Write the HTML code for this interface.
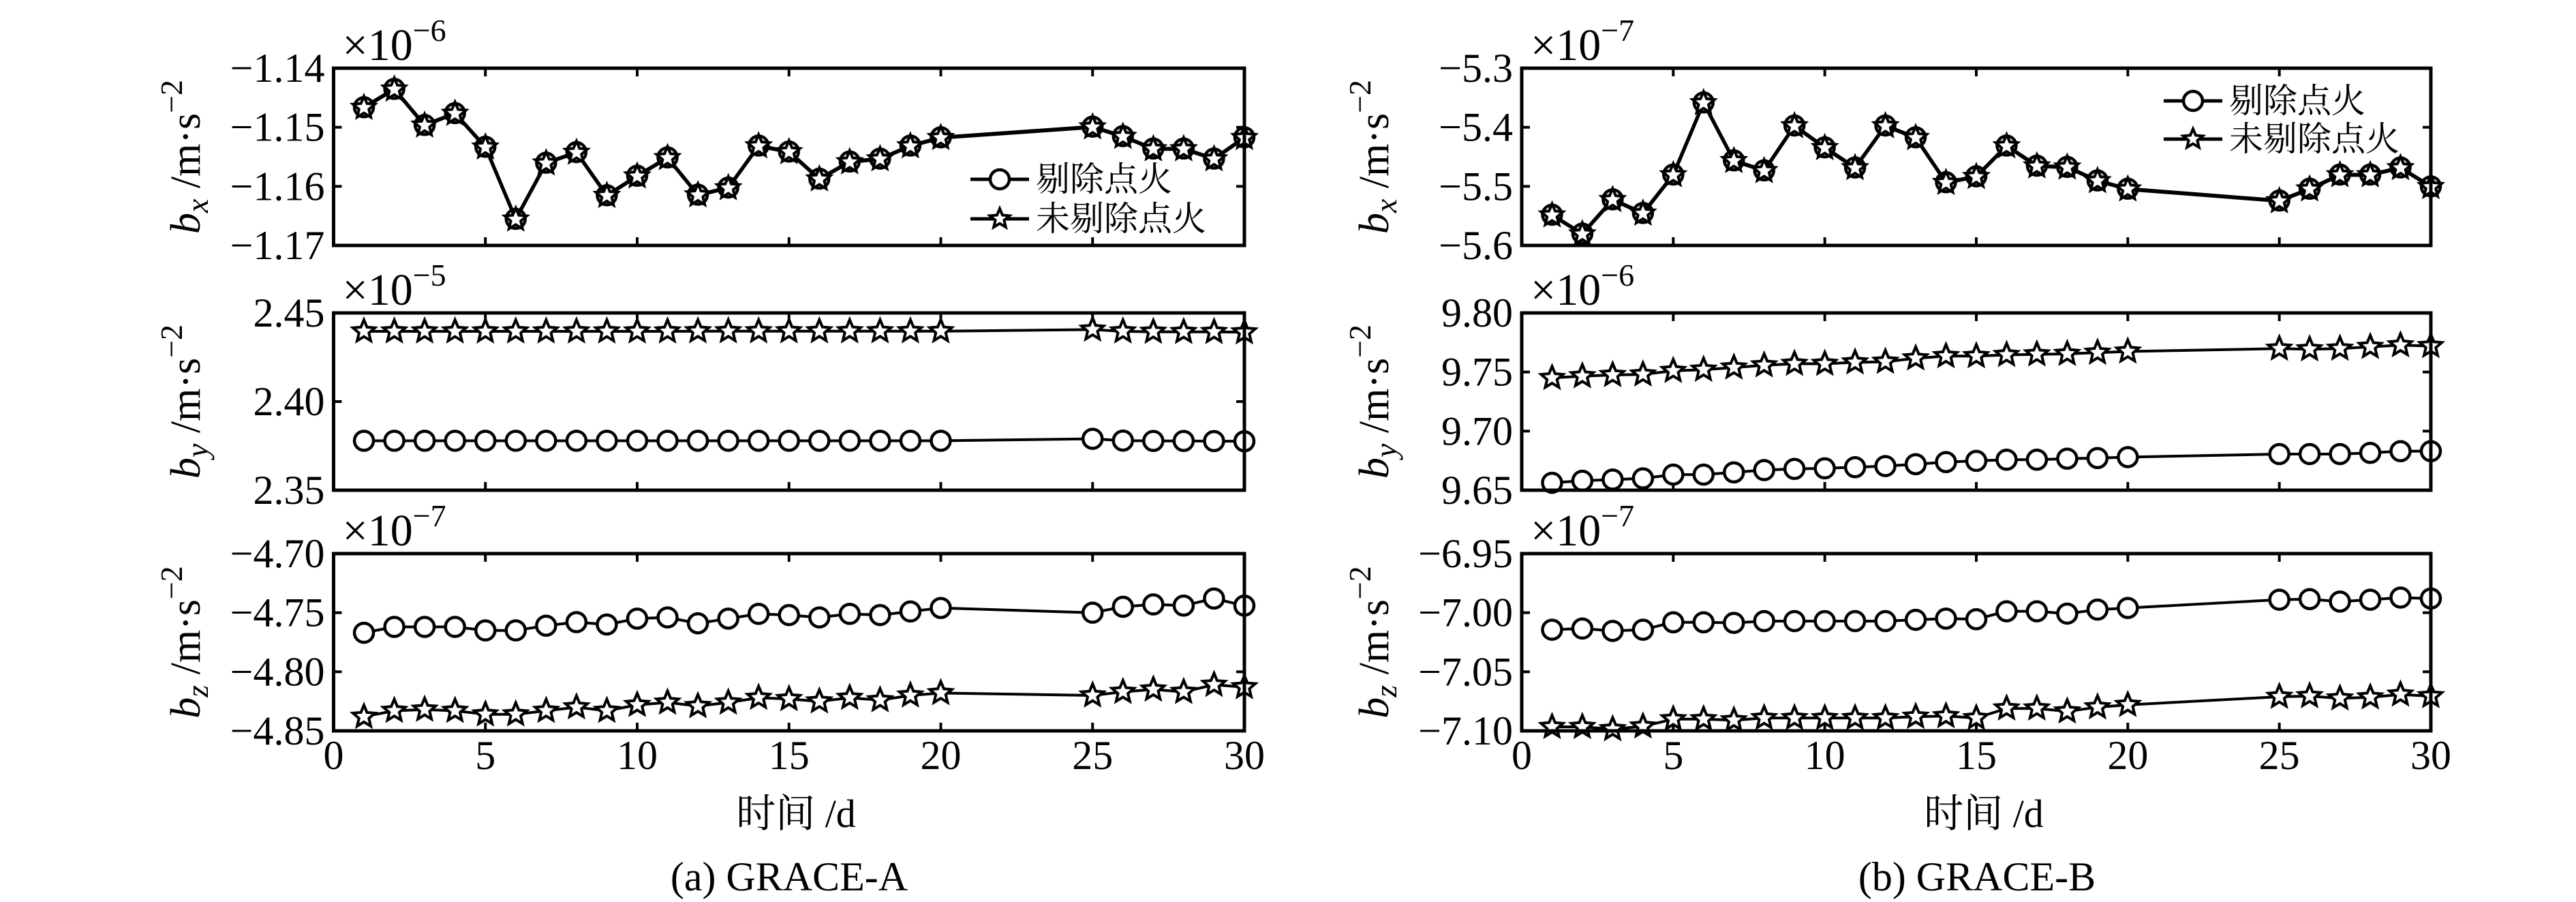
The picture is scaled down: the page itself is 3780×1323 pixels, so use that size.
<!DOCTYPE html>
<html><head><meta charset="utf-8"><style>
html,body{margin:0;padding:0;background:#fff;}
svg{display:block;font-family:"Liberation Serif","Noto Serif CJK SC",serif;}
svg text{font-family:"Liberation Serif","Noto Serif CJK SC",serif !important;fill:#000;}
</style></head><body>
<svg id="fig" width="3780" height="1323" viewBox="0 0 3780 1323" xmlns="http://www.w3.org/2000/svg" font-family="Liberation Serif, Noto Serif CJK SC, serif"></svg>
<script>
const days = [1,2,3,4,5,6,7,8,9,10,11,12,13,14,15,16,17,18,19,20,25,26,27,28,29,30];
// GRACE-A
const aBxCircle = [-1.1466,-1.1435,-1.1496,-1.1476,-1.1533,-1.1655,-1.1560,-1.1542,-1.1615,-1.1582,-1.1551,-1.1614,-1.1602,-1.1531,-1.1541,-1.1587,-1.1558,-1.1553,-1.1531,-1.1517,-1.1499,-1.1515,-1.1536,-1.1536,-1.1553,-1.1517];
const aBxStar   = [-1.1467,-1.1436,-1.1497,-1.1477,-1.1534,-1.1656,-1.1561,-1.1543,-1.1616,-1.1583,-1.1552,-1.1615,-1.1603,-1.1532,-1.1542,-1.1588,-1.1559,-1.1554,-1.1532,-1.1518,-1.1500,-1.1516,-1.1537,-1.1537,-1.1554,-1.1518];
const aByCircle = [2.3779,2.3779,2.3779,2.3779,2.3779,2.3779,2.3779,2.3779,2.3779,2.3779,2.3779,2.3779,2.3779,2.3779,2.3779,2.3779,2.3779,2.3779,2.3779,2.3779,2.3790,2.3780,2.3778,2.3778,2.3777,2.3776];
const aByStar   = [2.4396,2.4396,2.4396,2.4396,2.4396,2.4396,2.4396,2.4396,2.4396,2.4396,2.4396,2.4397,2.4397,2.4397,2.4397,2.4397,2.4397,2.4397,2.4397,2.4397,2.4406,2.4396,2.4394,2.4393,2.4393,2.4391];
const aBzCircle = [-4.767,-4.762,-4.762,-4.762,-4.765,-4.765,-4.761,-4.758,-4.760,-4.755,-4.754,-4.759,-4.755,-4.751,-4.752,-4.754,-4.751,-4.752,-4.749,-4.746,-4.750,-4.745,-4.743,-4.744,-4.738,-4.744];
const aBzStar   = [-4.838,-4.833,-4.832,-4.833,-4.836,-4.836,-4.833,-4.830,-4.833,-4.828,-4.826,-4.829,-4.826,-4.822,-4.823,-4.825,-4.822,-4.824,-4.820,-4.818,-4.820,-4.817,-4.815,-4.817,-4.811,-4.813];
// GRACE-B
const bBxCircle = [-5.548,-5.580,-5.522,-5.545,-5.480,-5.358,-5.456,-5.473,-5.397,-5.434,-5.468,-5.397,-5.417,-5.493,-5.483,-5.431,-5.465,-5.467,-5.490,-5.504,-5.524,-5.504,-5.480,-5.480,-5.468,-5.500];
const bBxStar   = [-5.549,-5.581,-5.523,-5.546,-5.481,-5.359,-5.457,-5.474,-5.398,-5.435,-5.469,-5.398,-5.418,-5.494,-5.484,-5.432,-5.466,-5.468,-5.491,-5.505,-5.525,-5.505,-5.481,-5.481,-5.469,-5.501];
const bByCircle = [9.6563,9.6580,9.6590,9.6600,9.6632,9.6632,9.6651,9.6670,9.6680,9.6685,9.6695,9.6704,9.6720,9.6738,9.6748,9.6758,9.6758,9.6767,9.6772,9.6780,9.6806,9.6806,9.6806,9.6816,9.6830,9.6830];
const bByStar   = [9.7450,9.7465,9.7475,9.7480,9.7510,9.7520,9.7538,9.7557,9.7570,9.7570,9.7582,9.7587,9.7616,9.7635,9.7635,9.7645,9.7650,9.7654,9.7664,9.7674,9.7698,9.7693,9.7698,9.7713,9.7727,9.7720];
const bBzCircle = [-7.0144,-7.0134,-7.0154,-7.0144,-7.0081,-7.0081,-7.0086,-7.0071,-7.0071,-7.0071,-7.0071,-7.0071,-7.0060,-7.0050,-7.0055,-6.9988,-6.9988,-7.0008,-6.9974,-6.9960,-6.9890,-6.9885,-6.9906,-6.9890,-6.9872,-6.9880];
const bBzStar   = [-7.0966,-7.0966,-7.0985,-7.0962,-7.0901,-7.0901,-7.0910,-7.0891,-7.0891,-7.0891,-7.0891,-7.0891,-7.0880,-7.0875,-7.0891,-7.0810,-7.0810,-7.0835,-7.0800,-7.0780,-7.0711,-7.0706,-7.0725,-7.0716,-7.0692,-7.0706];
// tick labels
const xTicks = [0,5,10,15,20,25,30];
const aBxTicks = [-1.14,-1.15,-1.16,-1.17];
const aByTicks = [2.45,2.40,2.35];
const aBzTicks = [-4.70,-4.75,-4.80,-4.85];
const bBxTicks = [-5.3,-5.4,-5.5,-5.6];
const bByTicks = [9.80,9.75,9.70,9.65];
const bBzTicks = [-6.95,-7.00,-7.05,-7.10];
const aBxDigits = 2, aByDigits = 2, aBzDigits = 2, bBxDigits = 1, bByDigits = 2, bBzDigits = 2;
const exps = ['−6','−5','−7','−7','−6','−7'];
const subs = ['x','y','z'];

const NS='http://www.w3.org/2000/svg';
const svg=document.getElementById('fig');
const FONT='"Liberation Serif","Noto Serif CJK SC",serif';
function mk(tag,attrs,parent){const e=document.createElementNS(NS,tag);for(const k in attrs)e.setAttribute(k,attrs[k]);if(tag==='text'){e.setAttribute('style','font-family:'+FONT);}(parent||svg).appendChild(e);return e;}
function fmt(v,d){const s=Math.abs(v).toFixed(d);return (v<0?'−':'')+s;}

const cols=[{x0:489.5,x1:1826,ylab:273,name:'a',xlab:1168,cap:'(a) GRACE-A'},{x0:2233,x1:3567,ylab:2017,name:'b',xlab:2911,cap:'(b) GRACE-B'}];
const rows=[{top:100},{top:459},{top:812}];
const H=260;
const panels=[
 [ {c:aBxCircle,s:aBxStar,t:aBxTicks,d:aBxDigits}, {c:aByCircle,s:aByStar,t:aByTicks,d:aByDigits}, {c:aBzCircle,s:aBzStar,t:aBzTicks,d:aBzDigits} ],
 [ {c:bBxCircle,s:bBxStar,t:bBxTicks,d:bBxDigits}, {c:bByCircle,s:bByStar,t:bByTicks,d:bByDigits}, {c:bBzCircle,s:bBzStar,t:bBzTicks,d:bBzDigits} ]
];

function starPath(cx,cy,R){const r=R*0.45;let p='';for(let i=0;i<10;i++){const a=-Math.PI/2+i*Math.PI/5;const rr=i%2?r:R;p+=(i?'L':'M')+(cx+rr*Math.cos(a)).toFixed(1)+','+(cy+rr*Math.sin(a)).toFixed(1);}return p+'Z';}

cols.forEach((col,ci)=>{
  const xScale=v=>col.x0+(v-0)/(30-0)*(col.x1-col.x0);
  rows.forEach((row,ri)=>{
    const P=panels[ci][ri];
    const ymax=P.t[0], ymin=P.t[P.t.length-1];
    const yScale=v=>row.top+(ymax-v)/(ymax-ymin)*H;
    const g=mk('g',{});
    
    
    xTicks.slice(1,-1).forEach(t=>{
      const x=xScale(t);
      const t1=mk('line',{x1:x,x2:x,y1:row.top,y2:row.top+12,stroke:'#000','stroke-width':4},g);
       
      const t2=mk('line',{x1:x,x2:x,y1:row.top+H,y2:row.top+H-12,stroke:'#000','stroke-width':4},g);
       
    });
    P.t.forEach(t=>{
      const y=yScale(t);
      const l1=mk('line',{x1:col.x0,x2:col.x0+12,y1:y,y2:y,stroke:'#000','stroke-width':4},g);
       
      const l2=mk('line',{x1:col.x1,x2:col.x1-12,y1:y,y2:y,stroke:'#000','stroke-width':4},g);
       
      const tx=mk('text',{x:col.x0-13,y:y+20,'text-anchor':'end','font-size':60},g);
       
      tx.textContent=fmt(t,P.d);
    });
    [['c',P.c],['s',P.s]].forEach(([kind,vals])=>{
      const thick = ri===0?5:4;
      const pts=days.map((d,i)=>xScale(d).toFixed(1)+','+yScale(vals[i]).toFixed(1)).join(' ');
      const pl=mk('polyline',{points:pts,fill:'none',stroke:'#000','stroke-width':thick,'stroke-linejoin':'round'},g);
      
      
    });
    [['c',P.c],['s',P.s]].forEach(([kind,vals])=>{
      days.forEach((d,i)=>{
        const x=xScale(d), y=yScale(vals[i]);
        let m;
        if(kind==='c'){
          m=mk('circle',{cx:x,cy:y,r:14,fill:ri===0?'none':'#fff',stroke:'#000','stroke-width':4.5},g);
          
        } else {
          m=mk('path',{d:starPath(x,y,17),fill:'#fff',stroke:'#000','stroke-width':4,'stroke-linejoin':'miter'},g);
          
        }
        
      });
    });
    const fr=mk('rect',{x:col.x0,y:row.top,width:col.x1-col.x0,height:H,fill:'none',stroke:'#000','stroke-width':5},g);
     
    const ex=mk('text',{x:col.x0+13,y:row.top-12,'font-size':66},g);
     
    ex.innerHTML='×10<tspan dy="-28" font-size="46">'+exps[ci*3+ri]+'</tspan>';
    const cy=row.top+H/2;
    const yl=mk('text',{x:col.ylab,y:cy,'font-size':62,'text-anchor':'middle',transform:'rotate(-90 '+col.ylab+' '+cy+')',dy:20},g);
     
    yl.innerHTML='<tspan font-style="italic">b</tspan><tspan font-style="italic" font-size="46" dy="12">'+subs[ri]+'</tspan><tspan dy="-12"> /m·s</tspan><tspan font-size="46" dy="-26">−2</tspan>';
    if(ri===2){
      xTicks.forEach(t=>{
        const tx=mk('text',{x:xScale(t),y:1128,'text-anchor':'middle','font-size':60},g);
         
        tx.textContent=t;
      });
    }
  });
  const xl=mk('text',{x:col.xlab,y:1213,'text-anchor':'middle','font-size':58});
   
  xl.textContent='时间 /d';
  const cap=mk('text',{x:col.xlab-10,y:1306,'text-anchor':'middle','font-size':60});
   
  cap.textContent=col.cap;
});

const legends=[{x:1424,y1:263,y2:321},{x:3175,y1:148,y2:204}];
legends.forEach((L,li)=>{
  const g=mk('g',{});
  
  
  [[L.y1,'c','剔除点火'],[L.y2,'s','未剔除点火']].forEach(([y,k,label])=>{
    const ln=mk('line',{x1:L.x,x2:L.x+86,y1:y,y2:y,stroke:'#000','stroke-width':5},g);
     
    let m;
    if(k==='c'){m=mk('circle',{cx:L.x+43,cy:y,r:14,fill:'#fff',stroke:'#000','stroke-width':4.5},g);}
    else {m=mk('path',{d:starPath(L.x+43,y,15),fill:'#fff',stroke:'#000','stroke-width':4},g);}
    
    const t=mk('text',{x:L.x+96,y:y+17,'font-size':50},g);
     
    t.textContent=label;
  });
});
</script>
</body></html>
